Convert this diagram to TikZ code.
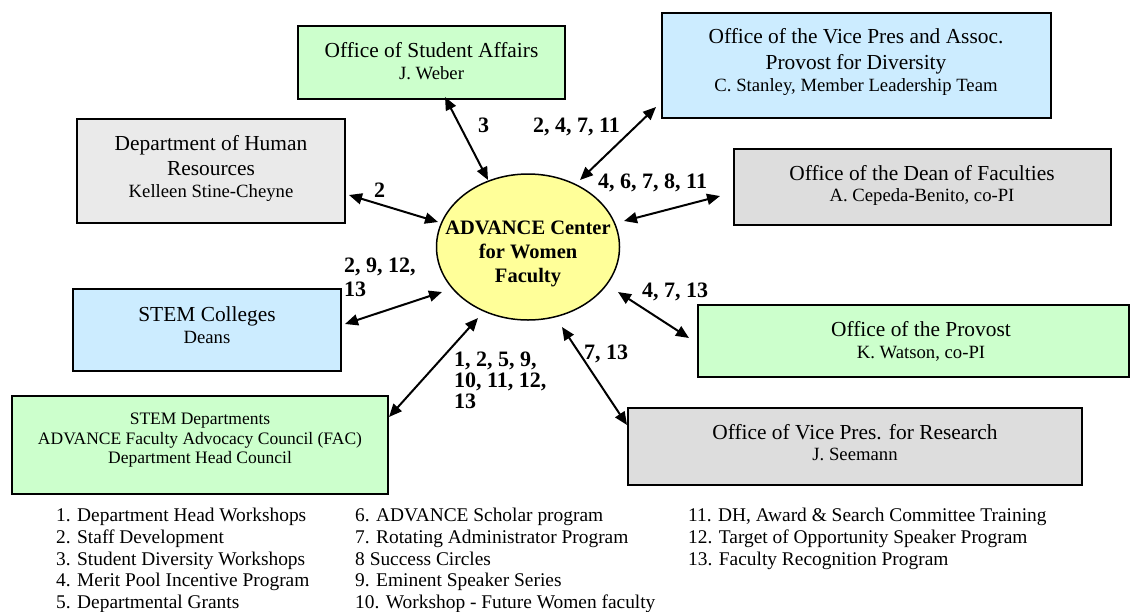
\documentclass[tikz,border=0pt]{standalone}
\usepackage{fontspec}
\setmainfont{Liberation Serif}
\usetikzlibrary{arrows.meta,shapes.geometric}
\definecolor{boxgreen}{HTML}{CCFFCC}
\definecolor{boxblue}{HTML}{CCECFF}
\definecolor{boxgreylt}{HTML}{EAEAEA}
\definecolor{boxgrey}{HTML}{DDDDDD}
\definecolor{ellyellow}{HTML}{FFFF99}
\begin{document}
\begin{tikzpicture}[x=1pt,y=-1pt,
  box/.style={draw=black, line width=2.5pt, inner sep=0pt},
  ttl/.style={anchor=base, font=\fontsize{21.4}{24}\selectfont, inner sep=0pt},
  sub/.style={anchor=base, font=\fontsize{18.7}{21}\selectfont, inner sep=0pt},
  subsm/.style={anchor=base, font=\fontsize{17.5}{20}\selectfont, inner sep=0pt},
  ctr/.style={anchor=base, font=\bfseries\fontsize{20.5}{24}\selectfont, inner sep=0pt},
  lbl/.style={anchor=base west, font=\bfseries\fontsize{22}{24}\selectfont, inner sep=0pt},
  leg/.style={anchor=base west, font=\fontsize{19.4}{21}\selectfont, inner sep=0pt},
  link/.style={line width=2pt, {Triangle[length=13pt,width=11pt]}-{Triangle[length=13pt,width=11pt]}}
]
\useasboundingbox (0,0) rectangle (1131,611);

% boxes
\node[box, fill=boxgreen, minimum width=267pt, minimum height=73pt] (sa) at (431.5,62.5) {};
\node[box, fill=boxgreylt, minimum width=268pt, minimum height=104pt] (hr) at (211,171) {};
\node[box, fill=boxblue, minimum width=389pt, minimum height=105pt] (vpd) at (856.5,65.5) {};
\node[box, fill=boxgrey, minimum width=377pt, minimum height=76pt] (dean) at (922.5,187) {};
\node[box, fill=boxblue, minimum width=268pt, minimum height=82pt] (col) at (207,330) {};
\node[box, fill=boxgreen, minimum width=376pt, minimum height=98pt] (dep) at (200,445) {};
\node[box, fill=boxgreen, minimum width=431pt, minimum height=72pt] (prov) at (913.5,341) {};
\node[box, fill=boxgrey, minimum width=454pt, minimum height=77pt] (vpr) at (855,446.5) {};

% center ellipse
\node[draw=black, line width=1.5pt, fill=ellyellow, ellipse, inner sep=0pt,
      minimum width=183pt, minimum height=146pt] (adv) at (528,247) {};
\node[ctr] (adv1) at (528,234) {ADVANCE Center};
\node[ctr] (adv2) at (528,258) {for Women};
\node[ctr] (adv3) at (528,282) {Faculty};

% box texts
\node[ttl] (sa1) at (431.5,57) {Office of Student Affairs};
\node[sub] (sa2) at (431.5,79) {J. Weber};

\node[ttl] (hr1) at (211,150) {Department of Human};
\node[ttl] (hr2) at (211,175) {Resources};
\node[sub] (hr3) at (211,197) {Kelleen Stine-Cheyne};

\node[ttl] (vpd1) at (856,43) {Office of the Vice Pres and Assoc.};
\node[ttl] (vpd2) at (856,69) {Provost for Diversity};
\node[sub] (vpd3) at (856,91) {C. Stanley, Member Leadership Team};

\node[ttl] (dean1) at (922,180) {Office of the Dean of Faculties};
\node[sub] (dean2) at (922,201) {A. Cepeda-Benito, co-PI};

\node[ttl] (col1) at (207,321) {STEM Colleges};
\node[sub] (col2) at (207,343) {Deans};

\node[subsm] (dep1) at (200,424) {STEM Departments};
\node[subsm] (dep2) at (200,444) {ADVANCE Faculty Advocacy Council (FAC)};
\node[subsm] (dep3) at (200,463) {Department Head Council};

\node[ttl] (prov1) at (921,336) {Office of the Provost};
\node[sub] (prov2) at (921,358) {K. Watson, co-PI};

\node[ttl] (vpr1) at (855,439) {Office of Vice Pres. for Research};
\node[sub] (vpr2) at (855,460) {J. Seemann};

% connector end points
\coordinate (saE) at (445,97);   \coordinate (saC) at (488,180);
\coordinate (hrE) at (349,195);  \coordinate (hrC) at (438,222);
\coordinate (vpdE) at (656,107); \coordinate (vpdC) at (580,180);
\coordinate (deanE) at (720,196);\coordinate (deanC) at (624,221);
\coordinate (colE) at (345,324); \coordinate (colC) at (442,292);
\coordinate (depE) at (389,417); \coordinate (depC) at (478,318);
\coordinate (provE) at (689,338);\coordinate (provC) at (618,292);
\coordinate (vprE) at (627,425); \coordinate (vprC) at (562,327);

\draw[link] (saE) -- (saC);
\draw[link] (hrE) -- (hrC);
\draw[link] (vpdE) -- (vpdC);
\draw[link] (deanE) -- (deanC);
\draw[link] (colE) -- (colC);
\draw[link] (depE) -- (depC);
\draw[link] (provE) -- (provC);
\draw[link] (vprE) -- (vprC);

% connector labels
\node[lbl] (l1) at (478,132) {3};
\node[lbl] (l2) at (374,197) {2};
\node[lbl] (l3) at (533,132) {2, 4, 7, 11};
\node[lbl] (l4) at (598,188) {4, 6, 7, 8, 11};
\node[lbl] (l5a) at (344,272) {2, 9, 12,};
\node[lbl] (l5b) at (344,296) {13};
\node[lbl] (l6) at (642,297) {4, 7, 13};
\node[lbl] (l7) at (584,359) {7, 13};
\node[lbl] (l8a) at (454,366) {1, 2, 5, 9,};
\node[lbl] (l8b) at (454,387) {10, 11, 12,};
\node[lbl] (l8c) at (454,408) {13};

% legend
\node[leg] (g1) at (56,521) {1. Department Head Workshops};
\node[leg] (g2) at (56,543) {2. Staff Development};
\node[leg] (g3) at (56,565) {3. Student Diversity Workshops};
\node[leg] (g4) at (56,586) {4. Merit Pool Incentive Program};
\node[leg] (g5) at (56,608) {5. Departmental Grants};
\node[leg] (g6) at (355,521) {6. ADVANCE Scholar program};
\node[leg] (g7) at (355,543) {7. Rotating Administrator Program};
\node[leg] (g8) at (355,565) {8 Success Circles};
\node[leg] (g9) at (355,586) {9. Eminent Speaker Series};
\node[leg] (g10) at (355,608) {10. Workshop - Future Women faculty};
\node[leg] (g11) at (688,521) {11. DH, Award \& Search Committee Training};
\node[leg] (g12) at (688,543) {12. Target of Opportunity Speaker Program};
\node[leg] (g13) at (688,565) {13. Faculty Recognition Program};
\end{tikzpicture}
\end{document}
